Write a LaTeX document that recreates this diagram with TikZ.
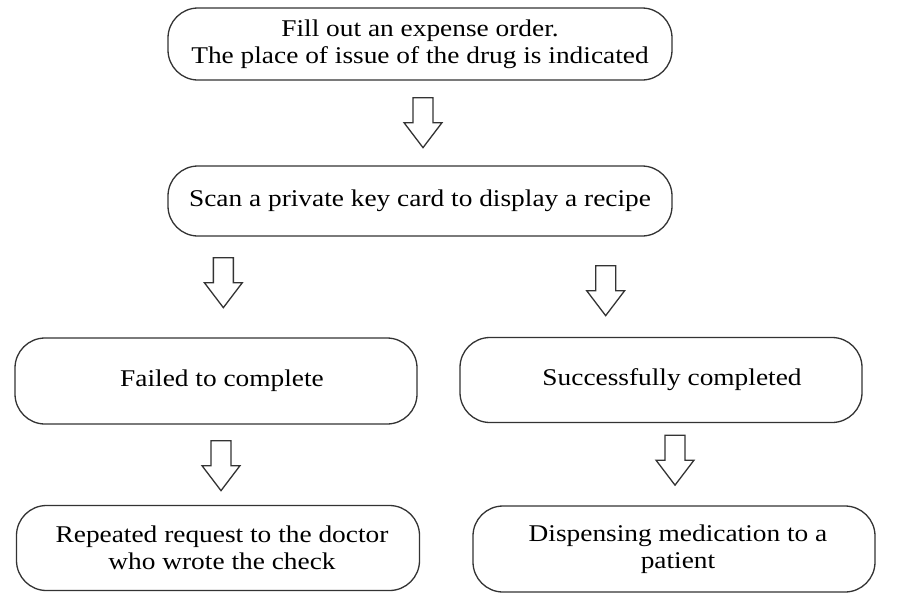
\documentclass[tikz,border=0pt]{standalone}
\usepackage{fontspec}
\setmainfont[FakeStretch=1.14]{Liberation Serif}
\usetikzlibrary{calc}
\tikzset{
  box/.style={draw=black!80, line width=1.3pt, rounded corners=30pt, align=center,
    font=\fontsize{24}{27}\selectfont, inner sep=0pt, anchor=center},
  blockarrow/.pic={\draw[draw=black!80, line width=1.3pt, fill=white]
    (-10,0) -- (-10,25) -- (-19,25) -- (0,50) -- (19,25) -- (10,25) -- (10,0) -- cycle;}
}
\begin{document}
\begin{tikzpicture}[x=1pt,y=-1pt]
\useasboundingbox (0,0) rectangle (910,606);
\node[box, minimum width=504pt, minimum height=72pt] (b1) at (420,44)
  {Fill out an expense order.\\The place of issue of the drug is indicated};
\node[box, minimum width=504pt, minimum height=70pt] (b2) at (420,201)
  {Scan a private key card to display a recipe};
\node[box, minimum width=402pt, minimum height=86pt] (b3) at (216,381)
  {\hspace*{12pt}Failed to complete};
\node[box, minimum width=402pt, minimum height=85pt] (b4) at (661,380)
  {\hspace*{22pt}Successfully completed};
\node[box, minimum width=403pt, minimum height=85pt] (b5) at (218,548)
  {\hspace*{8pt}Repeated request to the doctor\\\hspace*{8pt}who wrote the check};
\node[box, minimum width=402pt, minimum height=86pt] (b6) at (674,549)
  {\hspace*{8pt}Dispensing medication to a\\\hspace*{8pt}patient};
\coordinate (a1) at ($(b1.south)+(3,17)$);
\coordinate (a2) at ($(b2.south west)+(56,21)$);
\coordinate (a3) at ($(b2.south east)+(-67,29)$);
\coordinate (a4) at ($(b3.south)+(5,16)$);
\coordinate (a5) at ($(b4.south)+(14,12)$);
\pic at (a1) {blockarrow};
\pic at (a2) {blockarrow};
\pic at (a3) {blockarrow};
\pic at (a4) {blockarrow};
\pic at (a5) {blockarrow};
\end{tikzpicture}
\end{document}
